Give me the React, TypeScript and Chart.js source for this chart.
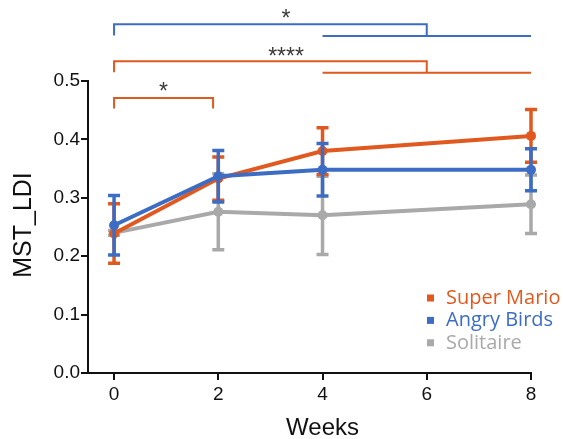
import React, { useEffect, useRef } from "react";
import { Chart, registerables } from "chart.js";

Chart.register(...registerables);

// ---- data ----
const weeks = [0, 2, 4, 8];
const xTickValues = [0, 2, 4, 6, 8];
const yTickValues = [0, 0.1, 0.2, 0.3, 0.4, 0.5];
const seriesNames = ["Super Mario", "Angry Birds", "Solitaire"];
const superMarioMean = [0.239, 0.333, 0.38, 0.406];
const superMarioErr = [0.051, 0.037, 0.04, 0.045];
const angryBirdsMean = [0.253, 0.337, 0.348, 0.348];
const angryBirdsErr = [0.051, 0.044, 0.045, 0.036];
const solitaireMean = [0.24, 0.276, 0.27, 0.289];
const solitaireErr = [0.004, 0.065, 0.067, 0.05];
const seriesColors = ["#E0591F", "#3D6CC4", "#A9A9A9"];
const drawOrder = [1, 0, 2];

// significance brackets (data units)
const bracketFrom = [0, 0, 0];
const bracketTo = [6, 6, 1.9];
const bracketLevel = [0.597, 0.534, 0.471];
const bracketDrop = [0.578, 0.515, 0.453];
const bracketTailFrom = [4, 4, null];
const bracketTailTo = [8, 8, null];
const bracketTailLevel = [0.577, 0.514, null];
const bracketStars = ["*", "****", "*"];
const bracketStarX = [3.3, 3.3, 0.95];
const bracketStarY = [0.616, 0.551, 0.49];
const bracketSeries = [1, 0, 0];

const xTitle = "Weeks";
const yTitle = "MST_LDI";

const AXIS_FONT = '"Liberation Sans", Arial, Helvetica, sans-serif';
const LEGEND_FONT = '"Open Sans", "Noto Sans", sans-serif';

const errorBarPlugin = {
  id: "errorBars",
  afterDatasetDraw(chart: any, args: any) {
    const ds = chart.data.datasets[args.index];
    const errs: number[] = ds.errors;
    if (!errs) return;
    const ctx = chart.ctx;
    const xs = chart.scales.x;
    const ys = chart.scales.y;
    ctx.save();
    ctx.strokeStyle = ds.borderColor;
    ctx.lineWidth = 3.5;
    ctx.lineCap = "butt";
    ds.data.forEach((p: any, i: number) => {
      const px = xs.getPixelForValue(p.x);
      const top = ys.getPixelForValue(p.y + errs[i]);
      const bot = ys.getPixelForValue(p.y - errs[i]);
      ctx.beginPath();
      ctx.moveTo(px, top);
      ctx.lineTo(px, bot);
      ctx.moveTo(px - 6, top);
      ctx.lineTo(px + 6, top);
      ctx.moveTo(px - 6, bot);
      ctx.lineTo(px + 6, bot);
      ctx.stroke();
    });
    ctx.restore();
  },
};

const decorPlugin = {
  id: "decor",
  afterDraw(chart: any) {
    const ctx = chart.ctx;
    const xs = chart.scales.x;
    const ys = chart.scales.y;
    const X = (v: number) => xs.getPixelForValue(v);
    const Y = (v: number) => ys.getPixelForValue(v);
    ctx.save();
    // brackets
    for (let i = 0; i < bracketFrom.length; i++) {
      const col = seriesColors[bracketSeries[i]];
      ctx.strokeStyle = col;
      ctx.lineWidth = 2;
      ctx.beginPath();
      ctx.moveTo(X(bracketFrom[i]), Y(bracketDrop[i]));
      ctx.lineTo(X(bracketFrom[i]), Y(bracketLevel[i]));
      ctx.lineTo(X(bracketTo[i]), Y(bracketLevel[i]));
      const tl = bracketTailLevel[i];
      if (tl !== null) {
        ctx.lineTo(X(bracketTo[i]), Y(tl as number));
        ctx.moveTo(X(bracketTailFrom[i] as number), Y(tl as number));
        ctx.lineTo(X(bracketTailTo[i] as number), Y(tl as number));
      } else {
        ctx.lineTo(X(bracketTo[i]), Y(bracketDrop[i]));
      }
      ctx.stroke();
      // stars
      ctx.fillStyle = "#3a3a3a";
      ctx.font = "23px " + AXIS_FONT;
      ctx.textAlign = "center";
      ctx.textBaseline = "alphabetic";
      const m = ctx.measureText(bracketStars[i]);
      const asc = m.actualBoundingBoxAscent;
      const desc = m.actualBoundingBoxDescent;
      const cy = Y(bracketStarY[i]);
      ctx.fillText(bracketStars[i], X(bracketStarX[i]), cy + (asc - desc) / 2);
    }
    // axis titles
    ctx.fillStyle = "#111";
    ctx.font = "24px " + AXIS_FONT;
    ctx.textAlign = "center";
    ctx.textBaseline = "middle";
    ctx.fillText(xTitle, X(4), 428);
    ctx.save();
    ctx.translate(24, (chart.chartArea.top + chart.chartArea.bottom) / 2 - 2);
    ctx.rotate(-Math.PI / 2);
    ctx.font = "25px " + AXIS_FONT;
    ctx.fillText(yTitle, 0, 0);
    ctx.restore();
    // legend
    ctx.font = "20px " + LEGEND_FONT;
    ctx.textAlign = "left";
    ctx.textBaseline = "middle";
    chart.data.datasets.forEach((ds: any, i: number) => {
      const cy = 298 + i * 22.4;
      ctx.fillStyle = ds.borderColor;
      ctx.fillRect(427, cy - 3.5, 7, 7);
      ctx.fillText(ds.label, 446, cy);
    });
    ctx.restore();
  },
};

export default function App() {
  const ref = useRef<HTMLCanvasElement | null>(null);
  useEffect(() => {
    if (!ref.current) return;
    const means = [superMarioMean, angryBirdsMean, solitaireMean];
    const errs = [superMarioErr, angryBirdsErr, solitaireErr];
    const chart = new Chart(ref.current, {
      type: "line",
      data: {
        datasets: seriesNames.map((name, s) => ({
          label: name,
          data: weeks.map((w, i) => ({ x: w, y: means[s][i] })),
          errors: errs[s],
          borderColor: seriesColors[s],
          backgroundColor: seriesColors[s],
          pointBackgroundColor: seriesColors[s],
          pointBorderWidth: 0,
          pointRadius: 5,
          borderWidth: 4,
          tension: 0,
          clip: false,
          order: drawOrder[s],
        })) as any,
      },
      options: {
        animation: false,
        responsive: false,
        events: [],
        layout: { padding: { top: 81, right: 32, bottom: 0, left: 0 } },
        plugins: { legend: { display: false }, tooltip: { enabled: false } },
        scales: {
          x: {
            type: "linear",
            min: -0.5,
            max: 8,
            afterBuildTicks: (sc: any) => {
              sc.ticks = xTickValues.map((v) => ({ value: v }));
            },
            afterFit: (sc: any) => {
              sc.height = 66;
            },
            grid: { drawOnChartArea: false, drawTicks: true, tickLength: 7, color: "#111", lineWidth: 2 },
            border: { display: true, color: "#111", width: 2 },
            ticks: { font: { family: AXIS_FONT, size: 19 }, color: "#111", padding: 3, maxRotation: 0 },
          },
          y: {
            type: "linear",
            min: 0,
            max: 0.5,
            afterBuildTicks: (sc: any) => {
              sc.ticks = yTickValues.map((v) => ({ value: v }));
            },
            afterFit: (sc: any) => {
              sc.width = 88;
            },
            grid: { drawOnChartArea: false, drawTicks: true, tickLength: 7, color: "#111", lineWidth: 2 },
            border: { display: true, color: "#111", width: 2 },
            ticks: {
              font: { family: AXIS_FONT, size: 19 },
              color: "#111",
              padding: 1,
              callback: (v: any) => Number(v).toFixed(1),
            },
          },
        },
      },
      plugins: [errorBarPlugin, decorPlugin],
    } as any);
    return () => chart.destroy();
  }, []);
  return (
    <div style={{ position: "absolute", left: 0, top: 0, width: 563, height: 439, background: "#fff" }}>
      <canvas ref={ref} width={563} height={439} style={{ width: 563, height: 439, display: "block" }} />
    </div>
  );
}
